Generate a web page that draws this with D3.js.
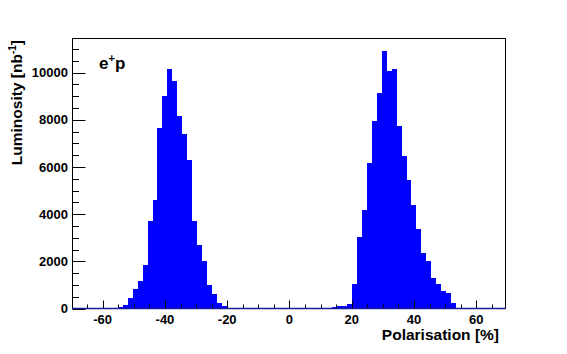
<!DOCTYPE html>
<html>
<head>
<meta charset="utf-8">
<script src="https://cdn.jsdelivr.net/npm/d3@7"></script>
<style>
  body { margin: 0; background: #fff; }
  text { font-family: "Liberation Sans", Arial, sans-serif; font-weight: bold; }
</style>
</head>
<body>
<svg width="567" height="354"></svg>
<script>
// bin centres [%] and luminosity per bin [nb^-1], bins are 1.6 % wide
var binWidth = 1.6;
var binCenters = [
  -54.4, -52.8, -51.2, -49.6, -48.0, -46.4, -44.8, -43.2, -41.6, -40.0, -38.4, -36.8,
  -35.2, -33.6, -32.0, -30.4, -28.8, -27.2, -25.6, -24.0, -22.4, -20.8, -19.2, -17.6,
  11.2, 12.8, 14.4, 16.0, 17.6, 19.2, 20.8, 22.4, 24.0, 25.6, 27.2, 28.8, 30.4, 32.0,
  33.6, 35.2, 36.8, 38.4, 40.0, 41.6, 43.2, 44.8, 46.4, 48.0, 49.6, 51.2, 52.8
];
var lumi = [
  55, 169, 436, 831, 1157, 1864, 3699, 4589, 7653, 9025, 10140, 9644,
  8148, 7415, 6284, 3699, 2712, 2034, 1017, 619, 254, 110, 40, 15,
  10, 25, 55, 97, 127, 182, 1059, 3034, 4165, 6157, 7936, 9153, 10903, 10055,
  10140, 7754, 6453, 5436, 4377, 3390, 2373, 2004, 1314, 1030, 733, 636, 225
];
var xTicks = [-60, -40, -20, 0, 20, 40, 60];
var yTicks = [0, 2000, 4000, 6000, 8000, 10000];

function main() {
  var svg = d3.select('svg');
  var left = 72.5, right = 505.5, top = 38.5, bottom = 308.5;

  var x = d3.scaleLinear().domain([-69.7, 69.4]).range([left, right]);
  var y = d3.scaleLinear().domain([0, 11445]).range([bottom, top]);

  var bins = binCenters.map(function(c, i) { return {c: c, v: lumi[i]}; });

  // histogram
  svg.append('g')
    .attr('shape-rendering', 'crispEdges')
    .selectAll('rect')
    .data(bins)
    .enter().append('rect')
    .attr('x', function(d) { return Math.round(x(d.c - binWidth / 2)); })
    .attr('width', function(d) { return Math.round(x(d.c + binWidth / 2)) - Math.round(x(d.c - binWidth / 2)); })
    .attr('y', function(d) { return Math.round(y(d.v)); })
    .attr('height', function(d) { return Math.round(y(0)) - Math.round(y(d.v)); })
    .attr('fill', '#0000ff');

  // frame
  svg.append('rect')
    .attr('x', left).attr('y', top)
    .attr('width', right - left).attr('height', bottom - top)
    .attr('fill', 'none').attr('stroke', '#000').attr('stroke-width', 1);

  // x axis ticks (drawn inwards)
  var xMinor = d3.range(-65, 70, 5);
  var gx = svg.append('g');
  gx.selectAll('line')
    .data(xMinor)
    .enter().append('line')
    .attr('x1', function(d) { return Math.round(x(d)) + 0.5; })
    .attr('x2', function(d) { return Math.round(x(d)) + 0.5; })
    .attr('y1', bottom)
    .attr('y2', function(d) { return d % 20 === 0 ? bottom - 8 : bottom - 4; })
    .attr('stroke', '#000');
  gx.selectAll('text')
    .data(xTicks)
    .enter().append('text')
    .attr('x', function(d) { return x(d); })
    .attr('y', 323.5)
    .attr('text-anchor', 'middle')
    .attr('font-size', 13)
    .text(function(d) { return d; });

  // y axis ticks
  var yMinor = d3.range(0, 11001, 500);
  var gy = svg.append('g');
  gy.selectAll('line')
    .data(yMinor)
    .enter().append('line')
    .attr('y1', function(d) { return Math.round(y(d)) + 0.5; })
    .attr('y2', function(d) { return Math.round(y(d)) + 0.5; })
    .attr('x1', left)
    .attr('x2', function(d) { return d % 2000 === 0 ? left + 13 : left + 6.5; })
    .attr('stroke', '#000');
  gy.selectAll('text')
    .data(yTicks)
    .enter().append('text')
    .attr('x', 68)
    .attr('y', function(d) { return y(d) + 4.7; })
    .attr('text-anchor', 'end')
    .attr('font-size', 13)
    .text(function(d) { return d; });

  // histogram outline along zero
  svg.append('line')
    .attr('x1', left).attr('x2', right)
    .attr('y1', bottom).attr('y2', bottom)
    .attr('stroke', '#1a1aa0').attr('stroke-width', 1.5);

  // axis titles
  svg.append('text')
    .attr('x', 499).attr('y', 340)
    .attr('text-anchor', 'end')
    .attr('font-size', 15.5)
    .text('Polarisation [%]');

  var yt = svg.append('text')
    .attr('transform', 'translate(22,40) rotate(-90)')
    .attr('text-anchor', 'end')
    .attr('font-size', 15.5);
  yt.append('tspan').text('Luminosity [nb');
  yt.append('tspan').attr('font-size', 10).attr('dy', -6).text('-1');
  yt.append('tspan').attr('dy', 6).text(']');

  // e+p label
  var lab = svg.append('text')
    .attr('x', 99).attr('y', 69)
    .attr('font-size', 17);
  lab.append('tspan').text('e');
  lab.append('tspan').attr('font-size', 11).attr('dy', -7).text('+');
  lab.append('tspan').attr('dy', 7).text('p');
}
main();
</script>
</body>
</html>
